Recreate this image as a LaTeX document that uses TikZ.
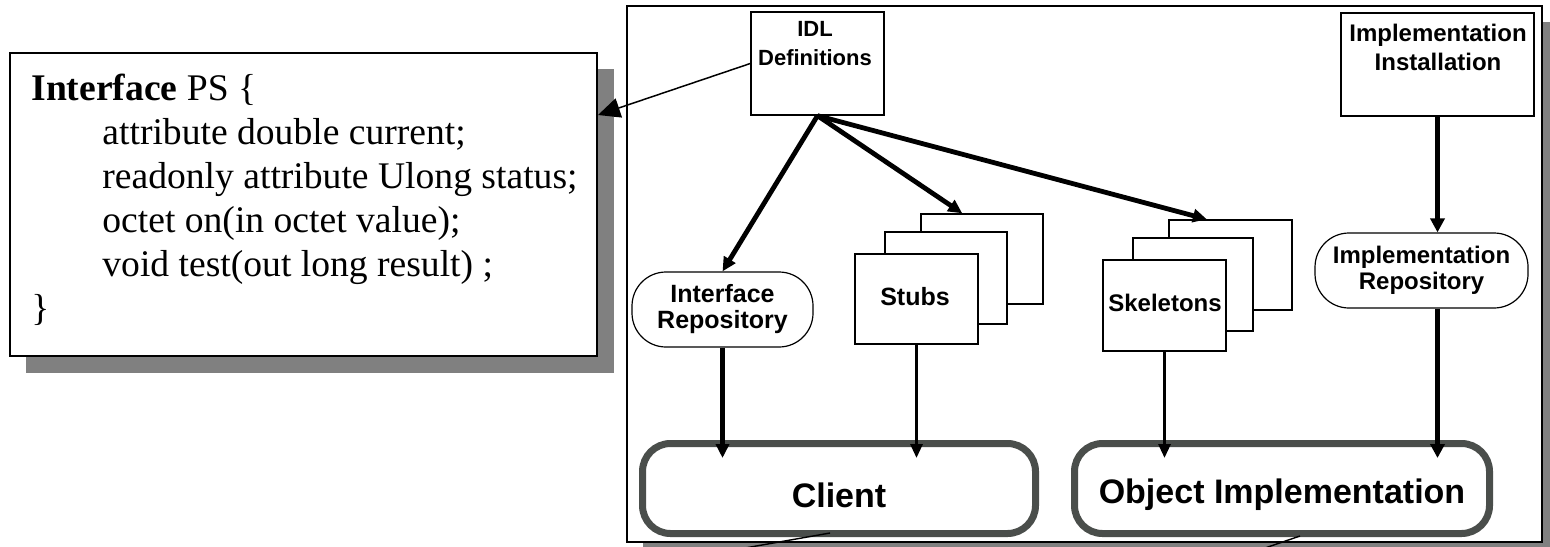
\documentclass[tikz,border=0pt]{standalone}
\usepackage{fontspec}
\setmainfont{Liberation Serif}
\newfontfamily\codefont{Liberation Serif}
\newfontfamily\lsans{Liberation Sans}
\usetikzlibrary{arrows.meta,calc}
\definecolor{shadowgray}{HTML}{808080}
\definecolor{ringgray}{HTML}{4A4E4B}
\begin{document}
\begin{tikzpicture}[x=0.5pt,y=-0.5pt,
  box/.style={draw=black, line width=0.7pt, fill=white, inner sep=0pt},
  repo/.style={draw=black, line width=0.6pt, fill=white, rounded corners=17pt, inner sep=0pt,
    font=\lsans\bfseries\fontsize{12.5}{13}\selectfont, align=center},
  lbl/.style={font=\lsans\bfseries\fontsize{12}{13}\selectfont, inner sep=0pt},
  actor/.style={draw=ringgray, line width=3.5pt, fill=white, rounded corners=14pt, inner sep=0pt},
  actorlbl/.style={font=\lsans\bfseries\fontsize{17}{20}\selectfont, inner sep=0pt},
  codeline/.style={anchor=base west, inner sep=0pt, font=\codefont\fontsize{18.8}{22}\selectfont},
  heavy/.style={line width=2.4pt, -{Triangle[length=7pt,width=6.5pt]}},
  heavier/.style={line width=2.7pt, -{Triangle[length=7pt,width=7pt]}},
  medium/.style={line width=1.5pt, -{Triangle[length=7pt,width=6pt]}},
  slim/.style={line width=0.75pt, -{Triangle[length=11pt,width=10pt]}},
  pointer/.style={line width=0.7pt}
]
\useasboundingbox (0,0) rectangle (1550,546);
\clip (0,0) rectangle (1550,546);

% left code box
\fill[shadowgray] (26,69) rectangle (614,373);
\node[draw=black, line width=1pt, fill=white, minimum width=293.5pt, minimum height=151.5pt, inner sep=0pt] (code) at (303.5,204.5) {};
\node[codeline] (l1) at (31,100) {{\bfseries Interface} PS \{};
\node[codeline] (l2) at (102,144) {attribute double current;};
\node[codeline] (l3) at (102,188) {readonly attribute Ulong status;};
\node[codeline] (l4) at (102,232) {octet on(in octet value);};
\node[codeline] (l5) at (102,276) {void test(out long result) ;};
\node[codeline] (l6) at (31,320) {\}};

% right frame
\fill[shadowgray] (643,22) rectangle (1566,562);
\node[draw=black, line width=1pt, fill=white, minimum width=457.5pt, minimum height=268pt, inner sep=0pt] (frame) at (1084.5,274) {};

% IDL Definitions
\node[box, minimum width=66.5pt, minimum height=51.5pt] (idl) at (817.5,63.5) {};
\node[lbl, font=\lsans\bfseries\fontsize{11}{13}\selectfont] (idlt1) at (815,29) {IDL};
\node[lbl, font=\lsans\bfseries\fontsize{11}{13}\selectfont] (idlt2) at (815,58) {Definitions};

% Implementation Installation
\node[box, minimum width=96.5pt, minimum height=51.5pt] (ii) at (1437.5,64.5) {};
\node[lbl] (iit1) at (1438,35) {Implementation};
\node[lbl] (iit2) at (1438,62) {Installation};

% Interface Repository
\node[repo, minimum width=90.5pt, minimum height=37.5pt] (ir) at (722.5,309.5) {Interface\\Repository};

% Stubs stack
\node[box, minimum width=61pt, minimum height=45pt] (stubsC) at (982,259) {};
\node[box, minimum width=61pt, minimum height=46pt] (stubsB) at (946,278) {};
\node[box, minimum width=61.5pt, minimum height=45pt] (stubsA) at (916.5,299) {};
\node[lbl, font=\lsans\bfseries\fontsize{12.5}{13}\selectfont] (stubst) at (915,297) {Stubs};

% Skeletons stack
\node[box, minimum width=61.5pt, minimum height=45pt] (skelC) at (1230.5,265) {};
\node[box, minimum width=60pt, minimum height=46.5pt] (skelB) at (1193,284.5) {};
\node[box, minimum width=61.5pt, minimum height=45.5pt] (skelA) at (1164.5,305.5) {};
\node[lbl] (skelt) at (1165,303) {Skeletons};

% Implementation Repository
\node[repo, minimum width=106.5pt, minimum height=37.5pt, font=\lsans\bfseries\fontsize{12}{13}\selectfont] (irepo) at (1421.5,270.5) {Implementation\\Repository};

% Client and Object Implementation
\node[actor, minimum width=196.5pt, minimum height=45pt] (client) at (839,488.5) {};
\node[actorlbl] (clientt) at (839,495) {Client};
\node[actor, minimum width=207.5pt, minimum height=45pt] (objimpl) at (1282,488.5) {};
\node[actorlbl] (objimplt) at (1282,495) {Object Implementation};

% connectors
\draw[slim] (idl.west) -- (code.east |- 0,115);
\draw[heavy] (idl.south) -- (ir.north);
\draw[heavy] (idl.south) -- ($(stubsC.north west)!0.34!(stubsC.north east)$);
\draw[heavy] (idl.south) -- ($(skelC.north west)!0.31!(skelC.north east)$);
\draw[heavier] (ii.south) -- (ii.south |- irepo.north);
\draw[heavy] (ir.south) -- ($(ir.south |- client.north)+(0,18)$);
\draw[medium] (stubsA.south) -- ($(stubsA.south |- client.north)+(0,18)$);
\draw[medium] (skelA.south) -- ($(skelA.south |- objimpl.north)+(0,18)$);
\draw[heavier] (ii.south |- irepo.south) -- ($(ii.south |- objimpl.north)+(0,18)$);

% pointer lines leaving the picture
\coordinate (cl2) at (745,548);
\coordinate (ol2) at (1265,548);
\draw[pointer] ($(client.south)+(-9,-4)$) -- (cl2);
\draw[pointer] ($(objimpl.south)+(18,-1)$) -- (ol2);
\end{tikzpicture}
\end{document}
